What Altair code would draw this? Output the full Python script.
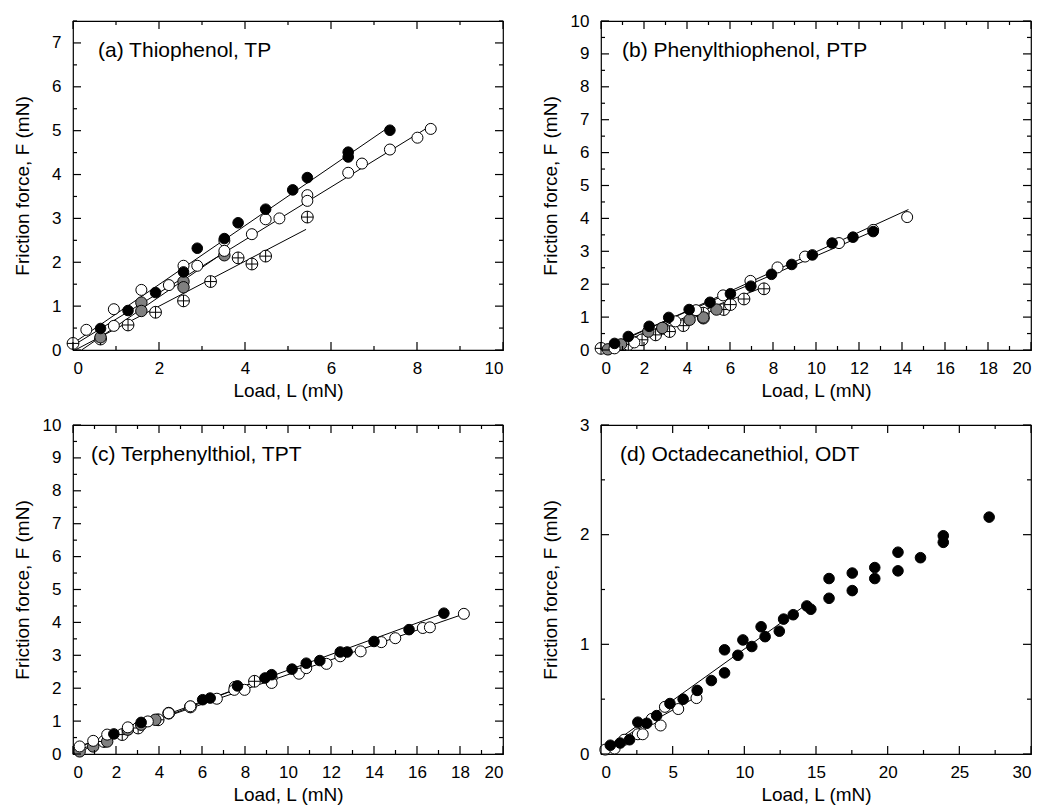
import altair as alt
import pandas as pd

FONT = "Liberation Sans"
W, H = 430, 329

# ---------------- data ----------------
# Panel (a) Thiophenol, TP
a_filled_L = [0.64, 1.28, 1.92, 2.57, 2.89, 3.52, 3.84, 4.48, 5.11, 5.45, 6.40, 6.40, 7.37]
a_filled_F = [0.49, 0.90, 1.31, 1.78, 2.32, 2.54, 2.90, 3.21, 3.65, 3.93, 4.51, 4.40, 5.01]
a_open_L = [0.31, 0.95, 0.95, 1.59, 2.23, 2.57, 2.89, 3.52, 3.52, 4.16, 4.48, 4.80, 5.45, 5.45, 6.40, 6.72, 7.37, 8.01, 8.32]
a_open_F = [0.46, 0.93, 0.55, 1.37, 1.48, 1.92, 1.92, 2.49, 2.26, 2.64, 2.98, 3.00, 3.53, 3.40, 4.04, 4.25, 4.57, 4.84, 5.04]
a_gray_L = [0.64, 1.59, 1.59, 2.57, 2.57, 3.52]
a_gray_F = [0.29, 1.08, 0.89, 1.56, 1.43, 2.16]
a_cross_L = [0.0, 0.64, 1.28, 1.92, 2.57, 3.20, 3.84, 4.16, 4.48, 5.45]
a_cross_F = [0.15, 0.25, 0.57, 0.86, 1.12, 1.56, 2.10, 1.96, 2.14, 3.03]
a_fit_kind = ["filled", "open", "gray", "cross"]
a_fit_L1 = [0.0, 0.0, 0.2, 0.05]
a_fit_F1 = [0.15, 0.10, 0.0, 0.0]
a_fit_L2 = [7.30, 8.30, 3.55, 5.42]
a_fit_F2 = [5.05, 5.10, 2.25, 2.75]

# Panel (b) Phenylthiophenol, PTP
b_filled_L = [0.63, 1.27, 2.24, 3.15, 4.10, 5.07, 6.02, 6.97, 7.93, 8.87, 9.83, 10.75, 11.72, 12.66]
b_filled_F = [0.20, 0.41, 0.72, 0.99, 1.23, 1.45, 1.71, 1.94, 2.30, 2.60, 2.89, 3.25, 3.43, 3.60]
b_open_L = [0.63, 1.55, 3.46, 4.42, 5.68, 6.95, 8.21, 9.49, 11.07, 12.66, 14.24]
b_open_F = [0.05, 0.23, 0.87, 1.21, 1.66, 2.10, 2.51, 2.84, 3.25, 3.65, 4.04]
b_gray_L = [0.32, 0.93, 2.20, 2.85, 4.12, 4.76, 5.37]
b_gray_F = [0.02, 0.17, 0.56, 0.67, 0.92, 0.99, 1.23]
b_cross_L = [0.0, 0.63, 1.27, 1.91, 2.54, 2.88, 3.19, 3.83, 4.76, 4.76, 5.71, 6.02, 6.65, 7.58]
b_cross_F = [0.05, 0.08, 0.17, 0.31, 0.46, 0.66, 0.56, 0.74, 0.97, 1.12, 1.23, 1.38, 1.55, 1.86]
b_fit_kind = ["filled", "open", "gray", "cross"]
b_fit_L1 = [0.0, 0.2, 0.3, 0.0]
b_fit_F1 = [0.04, 0.05, 0.0, 0.0]
b_fit_L2 = [12.7, 14.3, 5.4, 7.6]
b_fit_F2 = [3.62, 4.27, 1.25, 1.92]

# Panel (c) Terphenylthiol, TPT
c_filled_L = [1.90, 3.17, 6.03, 6.38, 7.65, 8.93, 9.24, 10.19, 10.85, 11.48, 12.43, 12.75, 14.00, 15.63, 17.25]
c_filled_F = [0.61, 0.96, 1.65, 1.70, 2.07, 2.31, 2.41, 2.58, 2.76, 2.84, 3.10, 3.10, 3.42, 3.78, 4.28]
c_open_L = [0.31, 0.94, 1.59, 2.55, 3.48, 4.45, 5.46, 6.69, 7.50, 7.98, 9.24, 9.24, 10.51, 10.85, 11.79, 12.43, 13.38, 14.34, 14.99, 16.27, 16.60, 18.18]
c_open_F = [0.23, 0.40, 0.59, 0.81, 0.99, 1.24, 1.45, 1.68, 1.95, 1.95, 2.31, 2.16, 2.44, 2.61, 2.74, 2.97, 3.12, 3.40, 3.52, 3.83, 3.85, 4.26]
c_gray_L = [0.31, 0.94, 1.59, 2.55, 3.17, 3.83]
c_gray_F = [0.08, 0.23, 0.38, 0.74, 0.89, 1.04]
c_cross_L = [1.44, 2.29, 3.03, 3.96, 4.45, 5.46, 7.54, 8.44]
c_cross_F = [0.38, 0.59, 0.79, 1.04, 1.24, 1.43, 2.03, 2.21]
c_fit_kind = ["filled", "open", "gray", "cross"]
c_fit_L1 = [0.0, 0.0, 0.0, 0.0]
c_fit_F1 = [0.16, 0.16, 0.0, 0.05]
c_fit_L2 = [17.25, 18.2, 3.9, 8.5]
c_fit_F2 = [4.28, 4.26, 1.0, 2.2]

# Panel (d) Octadecanethiol, ODT
d_filled_L = [0.65, 1.34, 1.99, 2.57, 3.19, 3.88, 4.81, 5.73, 6.71, 7.70, 8.62, 8.62, 9.55, 9.90, 10.52,
              11.17, 11.45, 12.44, 12.74, 13.41, 14.36, 14.64, 15.91, 15.91, 17.53, 17.53, 19.10, 19.10,
              20.72, 20.72, 22.29, 23.88, 23.88, 27.08]
d_filled_F = [0.08, 0.10, 0.13, 0.29, 0.28, 0.35, 0.46, 0.50, 0.58, 0.67, 0.95, 0.74, 0.90, 1.04, 0.98,
              1.16, 1.07, 1.12, 1.23, 1.27, 1.35, 1.32, 1.60, 1.42, 1.65, 1.49, 1.70, 1.60,
              1.84, 1.67, 1.79, 1.99, 1.93, 2.16]
d_open_L = [0.30, 0.95, 1.62, 2.57, 2.91, 3.54, 4.16, 4.46, 5.39, 6.66]
d_open_F = [0.04, 0.05, 0.13, 0.18, 0.18, 0.32, 0.26, 0.43, 0.41, 0.51]
d_fit_kind = ["filled", "open"]
d_fit_L1 = [0.0, 0.0]
d_fit_F1 = [0.02, 0.04]
d_fit_L2 = [14.3, 6.8]
d_fit_F2 = [1.36, 0.53]

KINDS = ["cross", "gray", "open", "filled"]
CROSS_PATH = "M-1,0A1,1 0 1,1 1,0A1,1 0 1,1 -1,0ZM-1,0L1,0M0,-1L0,1"
SW = 1.2


def points_frame(series):
    rows = []
    for kind in KINDS:
        if kind in series:
            Ls, Fs = series[kind]
            rows += [{"L": l, "F": f, "s": kind} for l, f in zip(Ls, Fs)]
    return pd.DataFrame(rows)


def panel(series, fit, xdom, ydom, xmaj, xmin, ymaj, ymin, label, label_x, ytp):
    xs = alt.Scale(domain=xdom, nice=False, zero=False)
    ys = alt.Scale(domain=ydom, nice=False, zero=False)
    pts = points_frame(series)
    fits = pd.DataFrame({"s": fit[0], "L1": fit[1], "F1": fit[2], "L2": fit[3], "F2": fit[4]})

    xaxis = alt.Axis(values=xmaj, ticks=False, tickSize=0, domain=False, grid=False,
                     labelPadding=10, format="d", title="Load, L  (mN)", titlePadding=5,
                     labelFont=FONT, labelFontSize=17, titleFont=FONT, titleFontSize=19,
                     titleFontWeight="normal", labelColor="black", titleColor="black")
    yaxis = alt.Axis(values=ymaj, ticks=False, tickSize=0, domain=False, grid=False,
                     labelPadding=12, format="d", title="Friction force, F  (mN)", titlePadding=ytp,
                     labelFont=FONT, labelFontSize=17, titleFont=FONT, titleFontSize=19,
                     titleFontWeight="normal", labelColor="black", titleColor="black")

    def X(f):
        return alt.X(f, scale=xs, axis=xaxis)

    def Y(f):
        return alt.Y(f, scale=ys, axis=yaxis)

    lines = alt.Chart(fits).mark_rule(color="black", strokeWidth=1).encode(
        x=X("L1:Q"), y=Y("F1:Q"), x2="L2:Q", y2="F2:Q",
    )
    dots = alt.Chart(pts).mark_point(filled=True, stroke="black", strokeWidth=1, opacity=1).encode(
        x=X("L:Q"), y=Y("F:Q"),
        fill=alt.Fill("s:N", scale=alt.Scale(domain=KINDS, range=["white", "#808080", "white", "black"]), legend=None),
        shape=alt.Shape("s:N", scale=alt.Scale(domain=KINDS, range=[CROSS_PATH, "circle", "circle", "circle"]), legend=None),
        size=alt.Size("s:N", scale=alt.Scale(domain=KINDS, range=[140, 112, 112, 112]), legend=None),
    )

    def xt(vals, length):
        df = pd.DataFrame({"v": vals})
        base = alt.Chart(df).mark_rule(color="black", strokeWidth=SW)
        bot = base.encode(x=X("v:Q"), y=alt.value(H), y2=alt.value(H - length))
        top = base.encode(x=X("v:Q"), y=alt.value(0), y2=alt.value(length))
        return [bot, top]

    def yt(vals, length):
        df = pd.DataFrame({"v": vals})
        base = alt.Chart(df).mark_rule(color="black", strokeWidth=SW)
        left = base.encode(y=Y("v:Q"), x=alt.value(0), x2=alt.value(length))
        right = base.encode(y=Y("v:Q"), x=alt.value(W), x2=alt.value(W - length))
        return [left, right]

    lab = alt.Chart(pd.DataFrame({"t": [label]})).mark_text(
        align="left", baseline="middle", font=FONT, fontSize=21, color="black"
    ).encode(x=alt.value(label_x), y=alt.value(30), text="t:N")

    layers = [lines, dots] + xt(xmaj, 8) + xt(xmin, 4) + yt(ymaj, 8) + yt(ymin, 4) + [lab]
    return alt.layer(*layers).properties(width=W, height=H)


pa = panel({"filled": (a_filled_L, a_filled_F), "open": (a_open_L, a_open_F),
            "gray": (a_gray_L, a_gray_F), "cross": (a_cross_L, a_cross_F)},
           (a_fit_kind, a_fit_L1, a_fit_F1, a_fit_L2, a_fit_F2),
           [0, 10], [0, 7.5], [0, 2, 4, 6, 8, 10], [1, 3, 5, 7, 9],
           [0, 1, 2, 3, 4, 5, 6, 7], [0.5, 1.5, 2.5, 3.5, 4.5, 5.5, 6.5, 7.5],
           "(a) Thiophenol, TP", 25, 19)
pb = panel({"filled": (b_filled_L, b_filled_F), "open": (b_open_L, b_open_F),
            "gray": (b_gray_L, b_gray_F), "cross": (b_cross_L, b_cross_F)},
           (b_fit_kind, b_fit_L1, b_fit_F1, b_fit_L2, b_fit_F2),
           [0, 20], [0, 10], list(range(0, 21, 2)), list(range(1, 20, 2)),
           list(range(0, 11)), [i + 0.5 for i in range(10)],
           "(b) Phenylthiophenol, PTP", 21, 10)
pc = panel({"filled": (c_filled_L, c_filled_F), "open": (c_open_L, c_open_F),
            "gray": (c_gray_L, c_gray_F), "cross": (c_cross_L, c_cross_F)},
           (c_fit_kind, c_fit_L1, c_fit_F1, c_fit_L2, c_fit_F2),
           [0, 20], [0, 10], list(range(0, 21, 2)), list(range(1, 20, 2)),
           list(range(0, 11)), [i + 0.5 for i in range(10)],
           "(c) Terphenylthiol, TPT", 18, 10)
pd_ = panel({"filled": (d_filled_L, d_filled_F), "open": (d_open_L, d_open_F)},
            (d_fit_kind, d_fit_L1, d_fit_F1, d_fit_L2, d_fit_F2),
            [0, 30], [0, 3], [0, 5, 10, 15, 20, 25, 30], [2.5, 7.5, 12.5, 17.5, 22.5, 27.5],
            [0, 1, 2, 3], [0.5, 1.5, 2.5],
            "(d) Octadecanethiol, ODT", 19, 19)

chart = alt.concat(pa, pb, pc, pd_, columns=2, spacing={"row": 75, "column": 98}, bounds="flush").properties(
    padding={"left": 12, "top": 11, "right": 5, "bottom": 3}, background="white"
).configure_view(stroke="black", strokeWidth=SW)

chart.save("out.html", embed_options={"renderer": "svg", "actions": False})
